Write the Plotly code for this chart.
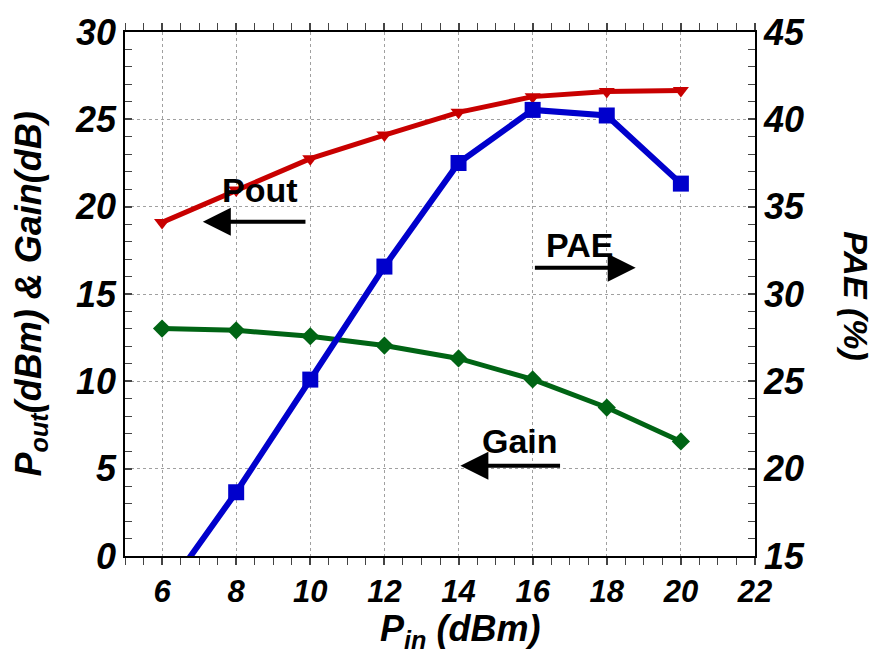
import plotly.graph_objects as go

pin = [6, 8, 10, 12, 14, 16, 18, 20]
pout = [19.1, 20.95, 22.75, 24.1, 25.4, 26.3, 26.6, 26.65]
gain = [13.02, 12.92, 12.58, 12.05, 11.31, 10.11, 8.5, 6.56]
pae = [12.7, 18.65, 25.1, 31.57, 37.5, 40.54, 40.22, 36.32]

FONT = "Arial, Liberation Sans, sans-serif"
RED = "#C80000"
BLUE = "#0000CC"
GREEN = "#006414"

fig = go.Figure()
fig.add_trace(go.Scatter(x=pin, y=pout, mode="lines+markers", name="Pout",
                         line=dict(color=RED, width=5),
                         marker=dict(symbol="triangle-down", size=14, color=RED)))
fig.add_trace(go.Scatter(x=pin, y=gain, mode="lines+markers", name="Gain",
                         line=dict(color=GREEN, width=5),
                         marker=dict(symbol="diamond", size=14, color=GREEN)))
fig.add_trace(go.Scatter(x=pin, y=pae, mode="lines+markers", name="PAE", yaxis="y2",
                         line=dict(color=BLUE, width=6),
                         marker=dict(symbol="square", size=16, color=BLUE)))

tickfont_y = dict(family=FONT, size=36, color="black", weight="bold", style="italic")
tickfont_x = dict(family=FONT, size=31, color="black", weight="bold", style="italic")
titlefont = dict(family=FONT, size=36, color="black", weight="bold", style="italic")
rtitlefont = dict(family=FONT, size=34, color="black", weight="bold", style="italic")
grid = dict(showgrid=True, gridcolor="#A0A0A0", gridwidth=1, griddash="3px,3px")

fig.update_layout(
    width=872, height=659,
    margin=dict(l=125, r=117, t=29, b=103),
    paper_bgcolor="white", plot_bgcolor="white",
    showlegend=False,
    xaxis=dict(range=[5, 22], dtick=2, tick0=6, ticks="outside", ticklen=7, tickwidth=1.5,
               showline=True, linecolor="black", linewidth=1.5, mirror="ticks",
               minor=dict(dtick=0.5, tick0=5, ticks="outside", ticklen=7, tickwidth=1.2, showgrid=False),
               tickfont=tickfont_x, zeroline=False,
               **grid),
    yaxis=dict(range=[0, 30], dtick=5, ticks="inside", ticklen=7, tickwidth=1.5,
               showline=True, linecolor="black", linewidth=1.5, mirror=False,
               minor=dict(dtick=1, ticks="inside", ticklen=7, tickwidth=1.2, showgrid=False),
               tickfont=tickfont_y, zeroline=False,
               **grid),
    yaxis2=dict(range=[15, 45], dtick=5, ticks="inside", ticklen=7, tickwidth=1.5,
                overlaying="y", side="right",
                showline=True, linecolor="black", linewidth=1.5,
                minor=dict(dtick=1, ticks="inside", ticklen=7, tickwidth=1.2, showgrid=False),
                tickfont=tickfont_y, zeroline=False, showgrid=False),
)

# axis titles
fig.add_annotation(x=0.532, y=-0.144, xref="paper", yref="paper", text="P<sub>in</sub> (dBm)",
                   showarrow=False, font=titlefont, xanchor="center", yanchor="middle")
fig.add_annotation(x=-0.150, y=0.5, xref="paper", yref="paper", text="P<sub>out</sub>(dBm) & Gain(dB)",
                   textangle=-90, showarrow=False, font=titlefont, xanchor="center", yanchor="middle")
fig.add_annotation(x=1.161, y=0.495, xref="paper", yref="paper", text="PAE (%)", borderpad=0,
                   textangle=90, showarrow=False, font=rtitlefont, xanchor="center", yanchor="middle")

labfont = dict(family=FONT, size=34, color="black", weight="bold")
# text labels
for txt, x, y in [("Pout", 8.64, 20.96), ("PAE", 17.26, 17.83), ("Gain", 15.66, 6.6)]:
    fig.add_annotation(x=x, y=y, xref="x", yref="y", text=txt, showarrow=False, font=labfont)
# arrows (tip at x,y; tail at ax,ay)
for x, y, ax, ay in [(7.10, 19.14, 9.91, 19.14), (18.78, 16.5, 16.02, 16.5), (14.05, 5.17, 16.78, 5.17)]:
    fig.add_annotation(x=x, y=y, ax=ax, ay=ay, xref="x", yref="y", axref="x", ayref="y",
                       text="", showarrow=True, arrowhead=2, arrowsize=1.4, arrowwidth=4,
                       arrowcolor="black")

fig.write_html("out.html")
